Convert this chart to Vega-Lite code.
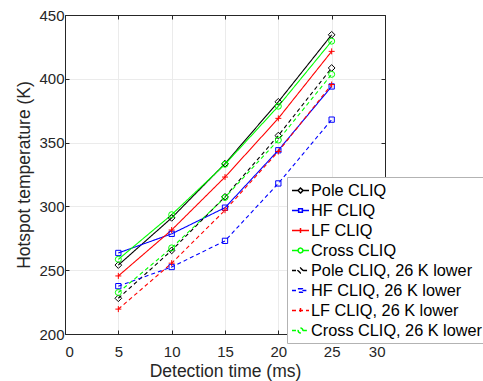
{
  "$schema": "https://vega.github.io/schema/vega-lite/v6.json",
  "width": 320,
  "height": 319,
  "autosize": {"type": "none"},
  "padding": {"left": 65, "top": 15, "right": 98, "bottom": 47},
  "config": {
    "font": "Liberation Sans",
    "view": {"stroke": "#262626", "strokeWidth": 1},
    "axis": {
      "labelFont": "Liberation Sans",
      "titleFont": "Liberation Sans",
      "labelFontSize": 15,
      "titleFontSize": 17.5,
      "titleFontWeight": "normal",
      "labelColor": "#262626",
      "titleColor": "#262626",
      "domainColor": "#262626",
      "tickColor": "#262626",
      "gridColor": "#ebebeb",
      "gridWidth": 1,
      "tickSize": -4
    }
  },
  "data": {
    "values": [
      {"series": "Pole CLIQ", "t": 5, "T": 254},
      {"series": "Pole CLIQ", "t": 10, "T": 291},
      {"series": "Pole CLIQ", "t": 15, "T": 333.5},
      {"series": "Pole CLIQ", "t": 20, "T": 382},
      {"series": "Pole CLIQ", "t": 25, "T": 434.5},
      {"series": "HF CLIQ", "t": 5, "T": 263.5},
      {"series": "HF CLIQ", "t": 10, "T": 278.5},
      {"series": "HF CLIQ", "t": 15, "T": 299},
      {"series": "HF CLIQ", "t": 20, "T": 344},
      {"series": "HF CLIQ", "t": 25, "T": 394},
      {"series": "LF CLIQ", "t": 5, "T": 245.5},
      {"series": "LF CLIQ", "t": 10, "T": 281.5},
      {"series": "LF CLIQ", "t": 15, "T": 323},
      {"series": "LF CLIQ", "t": 20, "T": 369},
      {"series": "LF CLIQ", "t": 25, "T": 421.5},
      {"series": "Cross CLIQ", "t": 5, "T": 258.5},
      {"series": "Cross CLIQ", "t": 10, "T": 293.5},
      {"series": "Cross CLIQ", "t": 15, "T": 333},
      {"series": "Cross CLIQ", "t": 20, "T": 378.5},
      {"series": "Cross CLIQ", "t": 25, "T": 429.5},
      {"series": "Pole CLIQ, 26 K lower", "t": 5, "T": 228},
      {"series": "Pole CLIQ, 26 K lower", "t": 10, "T": 265.5},
      {"series": "Pole CLIQ, 26 K lower", "t": 15, "T": 307.5},
      {"series": "Pole CLIQ, 26 K lower", "t": 20, "T": 355.5},
      {"series": "Pole CLIQ, 26 K lower", "t": 25, "T": 408.5},
      {"series": "HF CLIQ, 26 K lower", "t": 5, "T": 237.5},
      {"series": "HF CLIQ, 26 K lower", "t": 10, "T": 252.5},
      {"series": "HF CLIQ, 26 K lower", "t": 15, "T": 273},
      {"series": "HF CLIQ, 26 K lower", "t": 20, "T": 318},
      {"series": "HF CLIQ, 26 K lower", "t": 25, "T": 368},
      {"series": "LF CLIQ, 26 K lower", "t": 5, "T": 219.5},
      {"series": "LF CLIQ, 26 K lower", "t": 10, "T": 255.5},
      {"series": "LF CLIQ, 26 K lower", "t": 15, "T": 297},
      {"series": "LF CLIQ, 26 K lower", "t": 20, "T": 343},
      {"series": "LF CLIQ, 26 K lower", "t": 25, "T": 395.5},
      {"series": "Cross CLIQ, 26 K lower", "t": 5, "T": 232.5},
      {"series": "Cross CLIQ, 26 K lower", "t": 10, "T": 267.5},
      {"series": "Cross CLIQ, 26 K lower", "t": 15, "T": 307},
      {"series": "Cross CLIQ, 26 K lower", "t": 20, "T": 352},
      {"series": "Cross CLIQ, 26 K lower", "t": 25, "T": 403.5}
    ]
  },
  "layer": [
    {
      "mark": {"type": "line", "strokeWidth": 1.1},
      "encoding": {
        "x": {"field": "t", "type": "quantitative", "scale": {"domain": [0, 30], "nice": false},
              "axis": {"orient": "bottom", "values": [0, 5, 10, 15, 20, 25, 30], "title": "Detection time (ms)", "titlePadding": 3, "labelPadding": 14}},
        "y": {"field": "T", "type": "quantitative", "scale": {"domain": [200, 450], "nice": false, "zero": false},
              "axis": {"orient": "left", "values": [200, 250, 300, 350, 400, 450], "title": "Hotspot temperature (K)", "titlePadding": 5, "labelPadding": 5}},
        "color": {"field": "series", "type": "nominal",
          "scale": {
            "domain": ["Pole CLIQ", "HF CLIQ", "LF CLIQ", "Cross CLIQ", "Pole CLIQ, 26 K lower", "HF CLIQ, 26 K lower", "LF CLIQ, 26 K lower", "Cross CLIQ, 26 K lower"],
            "range": ["#000000", "#0000ff", "#ff0000", "#00ff00", "#000000", "#0000ff", "#ff0000", "#00ff00"]
          },
          "legend": {
            "orient": "none", "legendX": 222, "legendY": 162, "title": null,
            "fillColor": "#ffffff", "strokeColor": "#b3b3b3", "padding": 4,
            "labelFont": "Liberation Sans", "labelFontSize": 16.3, "labelColor": "#000000", "labelLimit": 400,
            "labelOffset": 1, "symbolSize": 289, "rowPadding": 2, "symbolOffset": 0,
            "encode": {"symbols": {"update": {"opacity": {"value": 1}, "strokeOpacity": {"value": 1}}}}
          }
        },
        "strokeDash": {"field": "series", "type": "nominal",
          "scale": {
            "domain": ["Pole CLIQ", "HF CLIQ", "LF CLIQ", "Cross CLIQ", "Pole CLIQ, 26 K lower", "HF CLIQ, 26 K lower", "LF CLIQ, 26 K lower", "Cross CLIQ, 26 K lower"],
            "range": [[1, 0], [1, 0], [1, 0], [1, 0], [4, 3], [4, 3], [4, 3], [4, 3]]
          }
        }
      }
    },
    {
      "transform": [{"filter": {"field": "series", "oneOf": ["Pole CLIQ", "Pole CLIQ, 26 K lower"]}}],
      "mark": {"type": "point", "shape": "diamond", "filled": false, "size": 45, "strokeWidth": 1, "opacity": 1},
      "encoding": {
        "x": {"field": "t", "type": "quantitative", "axis": null},
        "y": {"field": "T", "type": "quantitative", "axis": null},
        "color": {"field": "series", "type": "nominal"}
      }
    },
    {
      "transform": [{"filter": {"field": "series", "oneOf": ["HF CLIQ", "HF CLIQ, 26 K lower"]}}],
      "mark": {"type": "point", "shape": "square", "filled": false, "size": 28, "strokeWidth": 1, "opacity": 1},
      "encoding": {
        "x": {"field": "t", "type": "quantitative", "axis": null},
        "y": {"field": "T", "type": "quantitative", "axis": null},
        "color": {"field": "series", "type": "nominal"}
      }
    },
    {
      "transform": [{"filter": {"field": "series", "oneOf": ["LF CLIQ", "LF CLIQ, 26 K lower"]}}],
      "mark": {"type": "point", "shape": "M-1,0H1M0,-1V1", "filled": false, "size": 36, "strokeWidth": 1, "opacity": 1},
      "encoding": {
        "x": {"field": "t", "type": "quantitative", "axis": null},
        "y": {"field": "T", "type": "quantitative", "axis": null},
        "color": {"field": "series", "type": "nominal"}
      }
    },
    {
      "transform": [{"filter": {"field": "series", "oneOf": ["Cross CLIQ", "Cross CLIQ, 26 K lower"]}}],
      "mark": {"type": "point", "shape": "circle", "filled": false, "size": 36, "strokeWidth": 1, "opacity": 1},
      "encoding": {
        "x": {"field": "t", "type": "quantitative", "axis": null},
        "y": {"field": "T", "type": "quantitative", "axis": null},
        "color": {"field": "series", "type": "nominal"}
      }
    },
    {
      "mark": {"type": "point", "filled": false, "size": 289, "strokeWidth": 1.5, "opacity": 0},
      "encoding": {
        "x": {"field": "t", "type": "quantitative",
              "axis": {"orient": "top", "labels": false, "grid": false, "title": null, "values": [0, 5, 10, 15, 20, 25, 30]}},
        "y": {"field": "T", "type": "quantitative",
              "axis": {"orient": "right", "labels": false, "grid": false, "title": null, "values": [200, 250, 300, 350, 400, 450]}},
        "color": {"field": "series", "type": "nominal"},
        "strokeDash": {"field": "series", "type": "nominal"},
        "shape": {"field": "series", "type": "nominal",
          "scale": {
            "domain": ["Pole CLIQ", "HF CLIQ", "LF CLIQ", "Cross CLIQ", "Pole CLIQ, 26 K lower", "HF CLIQ, 26 K lower", "LF CLIQ, 26 K lower", "Cross CLIQ, 26 K lower"],
            "range": [
              "M-1,0H-0.3M0.3,0H1M0,-0.3L0.3,0L0,0.3L-0.3,0Z",
              "M-1,0H-0.22M0.22,0H1M-0.22,-0.22H0.22V0.22H-0.22Z",
              "M-1,0H1M0,-0.3V0.3",
              "M-1,0H-0.28M0.28,0H1M-0.28,0A0.28,0.28,0,1,0,0.28,0A0.28,0.28,0,1,0,-0.28,0",
              "M-1,0H-0.3M0.3,0H1M0,-0.3L0.3,0L0,0.3L-0.3,0Z",
              "M-1,0H-0.22M0.22,0H1M-0.22,-0.22H0.22V0.22H-0.22Z",
              "M-1,0H1M0,-0.3V0.3",
              "M-1,0H-0.28M0.28,0H1M-0.28,0A0.28,0.28,0,1,0,0.28,0A0.28,0.28,0,1,0,-0.28,0"
            ]
          }
        }
      }
    }
  ],
  "resolve": {"axis": {"x": "independent", "y": "independent"}}
}
